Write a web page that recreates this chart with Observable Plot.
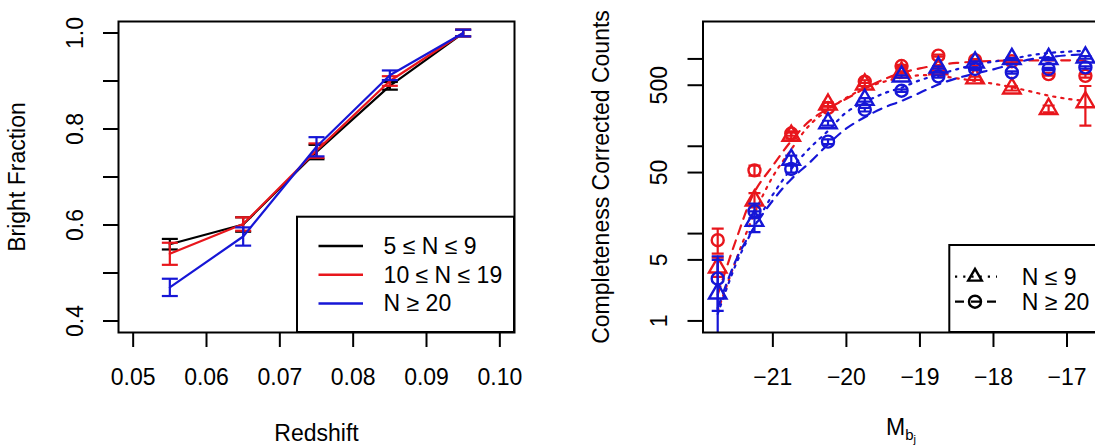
<!DOCTYPE html>
<html>
<head>
<meta charset="utf-8">
<script src="https://cdn.jsdelivr.net/npm/d3@7"></script>
<script src="https://cdn.jsdelivr.net/npm/@observablehq/plot@0.6"></script>
<style>
html, body { margin: 0; padding: 0; background: #fff; }
#wrap { position: relative; width: 1095px; height: 448px; overflow: hidden; background: #fff; }
#left { position: absolute; left: 0; top: 0; width: 540px; }
#right { position: absolute; left: 560px; top: 0; width: 545px; }
</style>
</head>
<body>
<div id="wrap"><div id="left"></div><div id="right"></div></div>
<script>
// ---------- Left panel data ----------
const redshift = [0.055, 0.065, 0.075, 0.085, 0.095];
const frac_5_9 = [0.560, 0.601, 0.752, 0.890, 1.000];
const err_5_9 = [0.011, 0.015, 0.015, 0.008, 0.007];
const frac_10_19 = [0.540, 0.602, 0.755, 0.900, 1.000];
const err_10_19 = [0.023, 0.014, 0.015, 0.010, 0.007];
const frac_20 = [0.470, 0.576, 0.763, 0.912, 1.000];
const err_20 = [0.018, 0.019, 0.020, 0.010, 0.007];
const leftNames = ["5 \u2264 N \u2264 9", "10 \u2264 N \u2264 19", "N \u2265 20"];
const leftXTicks = [0.05, 0.06, 0.07, 0.08, 0.09, 0.10];
const leftYTicks = [0.4, 0.5, 0.6, 0.7, 0.8, 0.9, 1.0];
const leftYLabels = [0.4, 0.6, 0.8, 1.0];

// ---------- Right panel data ----------
const magBins = [-21.75, -21.25, -20.75, -20.25, -19.75, -19.25, -18.75, -18.25, -17.75, -17.25, -16.75];
const redTri = [4.1, 24, 132, 300, 510, 700, 760, 600, 460, 268, 320];
const redTriLo = [3.2, 20, 122, 285, 490, 680, 735, 575, 435, 245, 172];
const redTriHi = [5.3, 29, 143, 316, 530, 720, 785, 625, 485, 293, 490];
const redCirc = [8.4, 53, 140, 275, 550, 830, 1090, 970, 940, 670, 640];
const redCircLo = [5.9, 46, 132, 262, 530, 805, 1060, 945, 915, 645, 610];
const redCircHi = [11.4, 60, 148, 288, 570, 855, 1120, 995, 965, 695, 670];
const blueTri = [2.06, 14, 70, 184, 340, 630, 800, 912, 1000, 1000, 1040];
const blueTriLo = [0.5, 10.4, 62, 172, 325, 610, 775, 885, 970, 970, 1005];
const blueTriHi = [5.0, 18, 78, 196, 355, 650, 825, 940, 1030, 1030, 1075];
const blueCirc = [3.05, 18, 55, 113, 262, 433, 630, 767, 700, 767, 800];
const blueCircLo = [1.3, 15, 50, 106, 250, 420, 610, 745, 680, 745, 775];
const blueCircHi = [5.5, 22, 60, 120, 275, 447, 650, 790, 720, 790, 825];

const curveMag = [-21.75, -21.5, -21.25, -21, -20.75, -20.5, -20.25, -20, -19.75, -19.5, -19.25, -19, -18.75, -18.5, -18.25, -18, -17.75, -17.5, -17.25, -17, -16.75];
const redDashed = [2.0, 8.5, 30, 60, 115, 195, 270, 350, 460, 580, 690, 780, 850, 900, 930, 950, 960, 960, 962, 965, 965];
const redDotted = [1.3, 5, 17, 45, 92, 175, 260, 360, 460, 545, 610, 650, 640, 600, 560, 520, 475, 425, 380, 350, 330];
const blueDotted = [1.2, 4.5, 12, 28, 55, 95, 150, 245, 320, 400, 470, 570, 660, 760, 860, 930, 1000, 1100, 1170, 1210, 1240];
const blueDashed = [1.4, 5, 12, 24, 42, 65, 105, 160, 215, 275, 330, 410, 510, 600, 680, 760, 870, 990, 1050, 1100, 1130];

const rightNames = ["N \u2264 9", "N \u2265 20"];
const rightXTicks = [-21, -20, -19, -18, -17];
const rightYTicks = [1, 5, 10, 50, 100, 500, 1000];
const rightYLabels = [1, 5, 50, 500];

// ---------- Styles ----------
const FONT = "'Liberation Sans', Arial, Helvetica, sans-serif";
const RED = "#e8161c", BLUE = "#1616d6", BLACK = "#000000";
const FS = 23;
const LW = 2.2;
const DOTTED = "2.2,6";
const DASHED = "9,7";

const capSymbol = {
  draw(ctx, size) {
    const r = Math.sqrt(size / Math.PI);
    ctx.moveTo(-r, 0);
    ctx.lineTo(r, 0);
  }
};

// ---------- Left plot ----------
const leftSeries = [
  {name: leftNames[0], color: BLACK, vals: frac_5_9, errs: err_5_9},
  {name: leftNames[1], color: RED, vals: frac_10_19, errs: err_10_19},
  {name: leftNames[2], color: BLUE, vals: frac_20, errs: err_20}
];
const leftMarks = [];
for (const s of leftSeries) {
  const rows = redshift.map((z, j) => ({z, f: s.vals[j], lo: s.vals[j] - s.errs[j], hi: s.vals[j] + s.errs[j]}));
  leftMarks.push(Plot.line(rows, {x: "z", y: "f", stroke: s.color, strokeWidth: LW}));
  leftMarks.push(Plot.ruleX(rows, {x: "z", y1: "lo", y2: "hi", stroke: s.color, strokeWidth: LW}));
  leftMarks.push(Plot.dot(rows, {x: "z", y: "lo", symbol: capSymbol, r: 8, fill: "none", stroke: s.color, strokeWidth: LW}));
  leftMarks.push(Plot.dot(rows, {x: "z", y: "hi", symbol: capSymbol, r: 8, fill: "none", stroke: s.color, strokeWidth: LW}));
}

const leftPlot = Plot.plot({
  width: 540, height: 448,
  marginLeft: 118, marginRight: 26, marginTop: 21, marginBottom: 116,
  style: {fontFamily: FONT, fontSize: FS + "px", color: "black", background: "white", maxWidth: "none"},
  x: {domain: [0.048, 0.102]},
  y: {domain: [0.376, 1.024]},
  marks: [
    Plot.axisX({ticks: leftXTicks, tickSize: 15, tickPadding: 21, strokeWidth: 2, tickFormat: d => d.toFixed(2), label: null}),
    Plot.axisY({ticks: leftYTicks, tickSize: 15, strokeWidth: 2, tickFormat: () => "", label: null}),
    Plot.text(leftYLabels, {y: d => d, text: d => d.toFixed(1), frameAnchor: "left", textAnchor: "middle", lineAnchor: "middle", dx: -43, rotate: -90, fill: "black"}),
    Plot.text(["Redshift"], {frameAnchor: "bottom", lineAnchor: "middle", dy: 101, fill: "black"}),
    Plot.text(["Bright Fraction"], {frameAnchor: "left", textAnchor: "middle", lineAnchor: "middle", dx: -101, rotate: -90, fill: "black"}),
    ...leftMarks,
    Plot.frame({stroke: "black", strokeWidth: 2})
  ]
});
document.getElementById("left").append(leftPlot);

// left legend
{
  const g = d3.select(leftPlot).append("g");
  g.append("rect").attr("x", 297).attr("y", 216.7).attr("width", 514 - 297).attr("height", 332 - 216.7)
    .attr("fill", "white").attr("stroke", "black").attr("stroke-width", 2);
  leftSeries.forEach((s, i) => {
    const y = 246 + i * 28.7;
    g.append("line").attr("x1", 318.5).attr("x2", 363).attr("y1", y).attr("y2", y)
      .attr("stroke", s.color).attr("stroke-width", 2.5);
    g.append("text").attr("x", 383.6).attr("y", y).attr("dy", "0.35em").attr("text-anchor", "start")
      .attr("font-family", FONT).attr("font-size", FS).attr("fill", "black").text(s.name);
  });
}

// ---------- Right plot ----------
const pointSeries = [
  {color: RED, symbol: "triangle", r: 6.5, vals: redTri, lo: redTriLo, hi: redTriHi},
  {color: RED, symbol: "circle", r: 6, vals: redCirc, lo: redCircLo, hi: redCircHi},
  {color: BLUE, symbol: "triangle", r: 6.5, vals: blueTri, lo: blueTriLo, hi: blueTriHi},
  {color: BLUE, symbol: "circle", r: 6, vals: blueCirc, lo: blueCircLo, hi: blueCircHi}
];
const curveSeries = [
  {color: RED, dash: DASHED, vals: redDashed},
  {color: RED, dash: DOTTED, vals: redDotted},
  {color: BLUE, dash: DOTTED, vals: blueDotted},
  {color: BLUE, dash: DASHED, vals: blueDashed}
];
const rightMarks = [];
for (const c of curveSeries) {
  const rows = curveMag.map((m, j) => ({m, v: c.vals[j]}));
  rightMarks.push(Plot.line(rows, {x: "m", y: "v", stroke: c.color, strokeWidth: LW, strokeDasharray: c.dash, curve: "catmull-rom", clip: true}));
}
for (const p of pointSeries) {
  const rows = magBins.map((m, j) => ({m, v: p.vals[j], lo: p.lo[j], hi: p.hi[j]}));
  rightMarks.push(Plot.ruleX(rows, {x: "m", y1: "lo", y2: "hi", stroke: p.color, strokeWidth: LW, clip: true}));
  rightMarks.push(Plot.dot(rows, {x: "m", y: "lo", symbol: capSymbol, r: 6, fill: "none", stroke: p.color, strokeWidth: LW, clip: true}));
  rightMarks.push(Plot.dot(rows, {x: "m", y: "hi", symbol: capSymbol, r: 6, fill: "none", stroke: p.color, strokeWidth: LW, clip: true}));
  rightMarks.push(Plot.dot(rows, {x: "m", y: "v", symbol: p.symbol, r: p.r, fill: "none", stroke: p.color, strokeWidth: 2.4, clip: true}));
}

const rightPlot = Plot.plot({
  width: 545, height: 448,
  marginLeft: 142.5, marginRight: 5.4, marginTop: 21, marginBottom: 116,
  style: {fontFamily: FONT, fontSize: FS + "px", color: "black", background: "white", maxWidth: "none"},
  x: {domain: [-21.95, -16.55]},
  y: {type: "log", domain: [0.737, 2683]},
  marks: [
    Plot.axisX({ticks: rightXTicks, tickSize: 15, tickPadding: 21, strokeWidth: 2, tickFormat: d3.format("d"), label: null}),
    Plot.axisY({ticks: rightYTicks, tickSize: 15, strokeWidth: 2, tickFormat: () => "", label: null}),
    Plot.text(rightYLabels, {y: d => d, text: d => String(d), frameAnchor: "left", textAnchor: "middle", lineAnchor: "middle", dx: -43.5, rotate: -90, fill: "black"}),
    Plot.text(["Completeness Corrected Counts"], {frameAnchor: "left", textAnchor: "middle", lineAnchor: "middle", dx: -101.5, rotate: -90, fill: "black"}),
    ...rightMarks,
    Plot.frame({stroke: "black", strokeWidth: 2})
  ]
});
document.getElementById("right").append(rightPlot);

// x label M_bj with nested subscripts
{
  const t = d3.select(rightPlot).append("text")
    .attr("x", 341).attr("y", 435).attr("text-anchor", "middle")
    .attr("font-family", FONT).attr("font-size", FS).attr("fill", "black");
  t.append("tspan").text("M");
  t.append("tspan").attr("font-size", 15).attr("dy", 5).text("b");
  t.append("tspan").attr("font-size", 11).attr("dy", 3).text("j");
}

// right legend
{
  const g = d3.select(rightPlot).append("g");
  const x0 = 949.3 - 560;
  g.append("rect").attr("x", x0).attr("y", 245).attr("width", 545 - 5.4 - x0).attr("height", 332 - 245)
    .attr("fill", "white").attr("stroke", "black").attr("stroke-width", 2);
  const items = [
    {name: rightNames[0], dash: DOTTED, symbol: d3.symbolTriangle2, r: 6.5},
    {name: rightNames[1], dash: DASHED, symbol: d3.symbolCircle, r: 6}
  ];
  items.forEach((it, i) => {
    const y = 276.7 + i * 25;
    g.append("line").attr("x1", 955 - 560).attr("x2", 997 - 560).attr("y1", y).attr("y2", y)
      .attr("stroke", "black").attr("stroke-width", LW).attr("stroke-dasharray", it.dash);
    g.append("path").attr("transform", `translate(${975 - 560},${y})`)
      .attr("d", d3.symbol(it.symbol, it.r * it.r * Math.PI)())
      .attr("fill", "none").attr("stroke", "black").attr("stroke-width", 2.4);
    g.append("text").attr("x", 1021.7 - 560).attr("y", y).attr("dy", "0.35em").attr("text-anchor", "start")
      .attr("font-family", FONT).attr("font-size", FS).attr("fill", "black").text(it.name);
  });
}
</script>
</body>
</html>
